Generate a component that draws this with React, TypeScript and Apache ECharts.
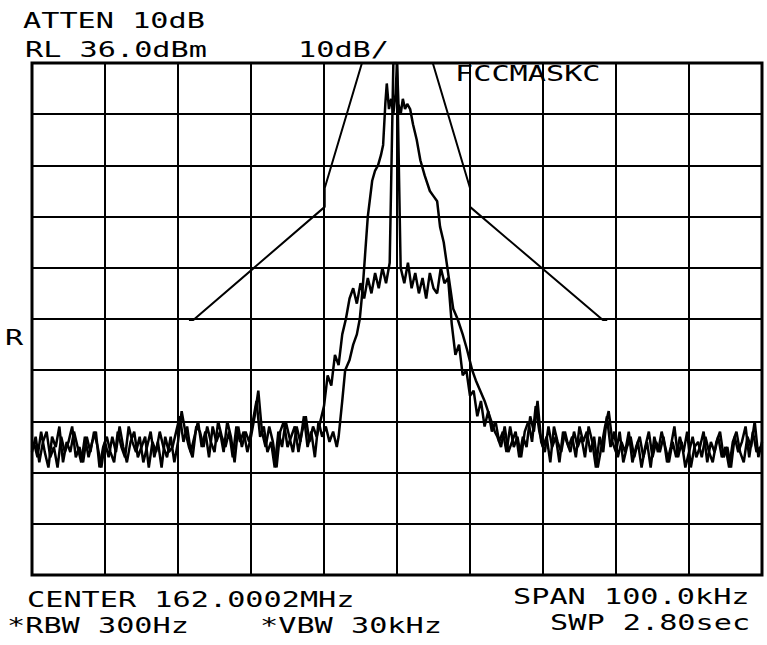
import React, { useEffect, useRef } from "react";
import * as echarts from "echarts";

// Reference level (top of screen) and scale
const refLevel = 36; // dBm
const spanKHz = 100;

// Mask FCCMASKC: frequency offset (kHz) and level (dBm)
const maskFreq = [-28.5, -27.9, -9.9, -9.9, -4.8, 4.9, 10.0, 10.0, 28.2, 28.8];
const maskLevel = [-14.2, -14.2, 7.9, 11.6, 36, 36, 11.6, 7.9, -14.2, -14.2];

// Trace A: full sweep, 0.5 kHz per point from -50 kHz to +50 kHz (dBm)
const traceALevel = [
  -40, -37, -42, -38, -36, -41, -39, -43, -37, -40,
  -38, -35, -41, -39, -42, -37, -40, -36, -39, -43,
  -38, -41, -37, -40, -35, -39, -42, -38, -36, -41,
  -39, -37, -43, -38, -40, -36, -39, -41, -37, -42,
  -38, -32, -36, -39, -41, -35,
  -36, -39, -35, -38, -40, -34, -37, -39, -36, -41,
  -35, -38, -36, -40, -37, -33, -28, -36, -39, -35,
  -38, -43, -36, -34, -39, -37, -35, -40, -36, -33,
  -38, -35, -37, -34, -31,
  -25, -27, -21, -23, -17, -14, -10,
  -8, -11, -7, -10, -6, -9, -5, -8, -4, -7, -3,
  36, 36, -4,
  -7, -3, -8, -5, -9, -6, -10, -5, -8, -9, -4, -7, -6,
  -15, -21, -19, -25, -24, -29, -28, -33, -30, -35, -32, -36, -34,
  -38, -36, -40, -35, -39, -37, -41, -36, -34, -38,
  -31, -36, -39, -37, -42, -35, -38, -40, -36, -39,
  -37, -41, -35, -38, -36, -40, -37, -43, -39, -35,
  -32, -38, -40, -36, -42, -39, -37, -41, -38, -43,
  -39, -36, -41, -38, -40, -37, -42, -39, -35, -41,
  -38, -43, -40, -37, -41, -39, -36, -42, -38, -40,
  -37, -41, -39, -43, -38, -36, -40, -42, -37, -39,
  -34, -41, -38,
];

// Trace B, left noise: 0.5 kHz per point from -49.75 kHz to -8.25 kHz (dBm)
const traceBLeftStart = -49.75;
const traceBLeftLevel = [
  -38, -41, -36, -40, -43, -37, -39, -35, -42, -38,
  -40, -36, -39, -42, -37, -41, -38, -36, -43, -39,
  -37, -40, -42, -36, -39, -41, -35, -38, -40, -37,
  -42, -39, -36, -41, -38, -43, -37, -40, -39, -36,
  -33, -38, -35, -40, -37, -34, -39, -36, -41, -35,
  -38, -36, -40, -34, -37, -42, -35, -39, -36, -38,
  -34, -30, -37, -35, -40, -38, -43, -36, -39, -34,
  -37, -40, -35, -38, -33, -39, -36, -41, -34, -37,
  -35, -38, -36, -39,
];

// Trace B, narrow envelope around the carrier
const traceBFreq = [
  -8, -7.5, -7.1, -6.5, -6.0, -5.5, -5.1, -4.7, -4.4, -4.0,
  -3.4, -3.0, -2.6, -2.2, -1.9, -1.6, -1.4, -1.1, -0.8, -0.5,
  -0.2, 0, 0.2, 0.5, 0.8, 1.1, 1.4, 1.8, 2.2, 2.7,
  3.2, 3.8, 4.5, 5.0, 5.5, 5.9, 6.4, 6.8, 7.3, 7.7,
  8.3, 9.0, 9.6, 10.3, 10.8, 11.4, 12.0, 12.7, 13.4,
];
const traceBLevel = [
  -37, -30, -24, -22, -19, -17, -14, -8, -2, 6,
  13, 15, 16, 18, 20, 28, 32, 27, 29, 26,
  30, 36, 28, 26, 29, 27, 28, 27, 24, 21,
  17, 14, 11, 10, 9, 4, 1, -3, -8, -12,
  -14, -17, -20, -24, -26, -28, -30, -33, -36,
];

// Trace B, right noise: 0.5 kHz per point from 13.75 kHz to 49.75 kHz (dBm)
const traceBRightStart = 13.75;
const traceBRightLevel = [
  -37, -39, -35, -40, -38, -36, -41, -37, -39, -33,
  -36, -30, -38, -40, -35, -39, -37, -42, -36, -38,
  -40, -36, -39, -37, -41, -35, -38, -43, -37, -40,
  -33, -39, -36, -41, -38, -40, -36, -42, -39, -37,
  -41, -38, -43, -37, -40, -36, -39, -42, -38, -41,
  -37, -40, -36, -43, -39, -38, -41, -37, -40, -42,
  -38, -36, -41, -39, -43, -37, -40, -38, -35, -41,
  -36, -40, -39,
];

// Annotation texts
const topTexts = ["ATTEN 10dB", "RL 36.0dBm", "10dB/"];
const maskName = "FCCMASKC";
const bottomTexts = ["CENTER 162.0002MHz", "*RBW 300Hz", "*VBW 30kHz", "SPAN 100.0kHz", "SWP 2.80sec"];

const FONT = "21px 'DejaVu Sans Mono', monospace";
const SX = 1.44;

function txt(text: string, x: number, y: number) {
  return {
    type: "text",
    x,
    y,
    scaleX: SX,
    style: { text, x: 0, y: 0, font: FONT, fill: "#000", align: "left", verticalAlign: "middle" },
    silent: true,
  };
}

export default function App() {
  const ref = useRef<HTMLDivElement>(null);
  useEffect(() => {
    if (!ref.current) return;
    const chart = echarts.init(ref.current, null, { renderer: "svg" });
    const rel = (v: number) => v - refLevel;
    const dataA = traceALevel.map((v, i) => [-spanKHz / 2 + i * 0.5, rel(v)]);
    const dataB = [
      ...traceBLeftLevel.map((v, i) => [traceBLeftStart + i * 0.5, rel(v)]),
      ...traceBFreq.map((f, i) => [f, rel(traceBLevel[i])]),
      ...traceBRightLevel.map((v, i) => [traceBRightStart + i * 0.5, rel(v)]),
    ];
    const dataM = maskFreq.map((f, i) => [f, rel(maskLevel[i])]);
    const maskStyle = { color: "#000", width: 2 };
    const traceStyle = { color: "#000", width: 2.5 };
    chart.setOption({
      animation: false,
      backgroundColor: "#fff",
      grid: {
        left: 32,
        right: 5,
        top: 63,
        bottom: 70,
        show: true,
        borderColor: "#000",
        borderWidth: 3,
        backgroundColor: "transparent",
      },
      xAxis: {
        type: "value",
        min: -50,
        max: 50,
        interval: 10,
        axisLine: { show: false },
        axisTick: { show: false },
        axisLabel: { show: false },
        splitLine: { show: true, lineStyle: { color: "#000", width: 2 } },
      },
      yAxis: {
        type: "value",
        min: -100,
        max: 0,
        interval: 10,
        axisLine: { show: false },
        axisTick: { show: false },
        axisLabel: { show: false },
        splitLine: { show: true, lineStyle: { color: "#000", width: 2 } },
      },
      series: [
        { name: "mask", type: "line", data: dataM, symbol: "none", lineStyle: maskStyle, clip: true },
        { name: "A", type: "line", data: dataA, symbol: "none", lineStyle: traceStyle, clip: true },
        { name: "B", type: "line", data: dataB, symbol: "none", lineStyle: traceStyle, clip: true },
      ],
      graphic: [
        txt(topTexts[0], 23, 21),
        txt(topTexts[1], 25, 50),
        txt(topTexts[2], 298, 50),
        txt(maskName, 455, 74),
        txt("R", 5, 338),
        txt(bottomTexts[0], 27, 600),
        txt(bottomTexts[1], 7, 626),
        txt(bottomTexts[2], 260, 626),
        txt(bottomTexts[3], 513, 597),
        txt(bottomTexts[4], 550, 623),
      ],
    });
    return () => chart.dispose();
  }, []);
  return (
    <div
      ref={ref}
      style={{ position: "fixed", left: 0, top: 0, width: 767, height: 645, background: "#fff" }}
    />
  );
}
